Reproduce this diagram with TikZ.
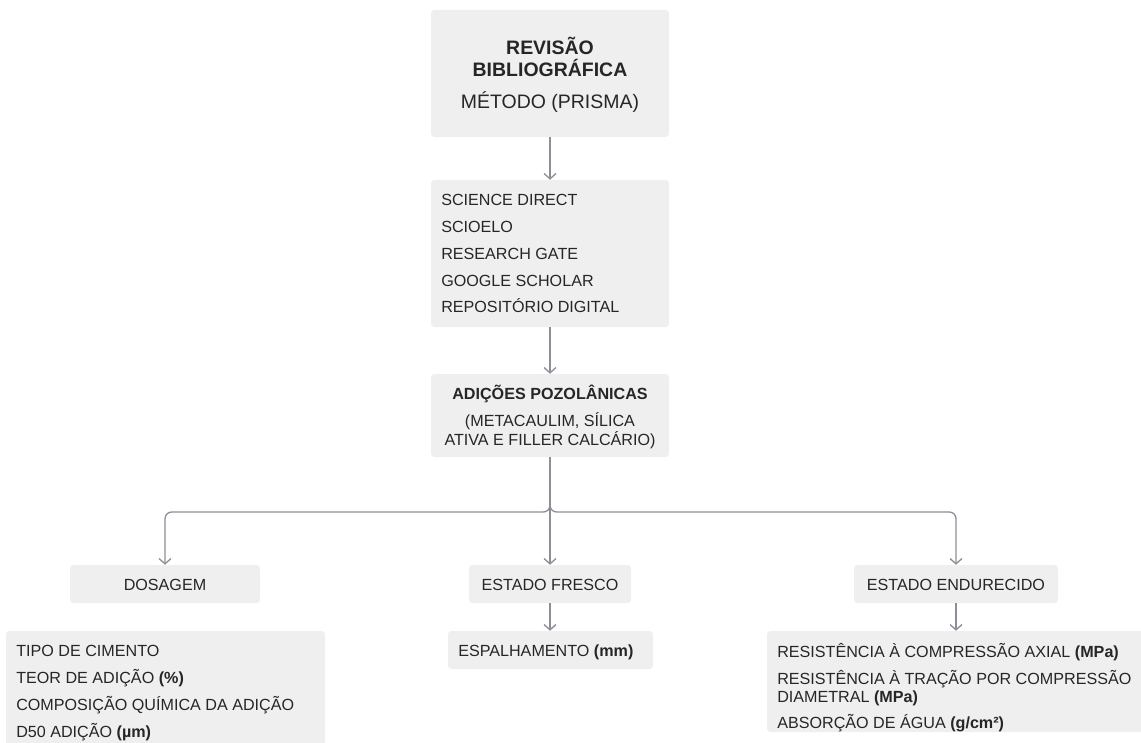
\documentclass[tikz,border=0pt]{standalone}
\usepackage{fontspec}
\setmainfont{Liberation Sans}
\usetikzlibrary{arrows.meta,fit}
\definecolor{boxfill}{HTML}{EFEFEF}
\definecolor{ink}{HTML}{262626}
\definecolor{wire}{HTML}{8E8E98}
\begin{document}
\begin{tikzpicture}[x=0.75pt,y=-0.75pt,
  box/.style={rectangle, fill=boxfill, rounded corners=2.5pt, inner sep=0pt, draw=none},
  lbl/.style={inner sep=0pt, text=ink, font=\fontsize{12.1}{14}\selectfont},
  big/.style={inner sep=0pt, text=ink, font=\fontsize{14.6}{17}\selectfont},
  conn/.style={draw=wire, line width=1pt, -{Straight Barb[length=4pt,width=9pt]}},
]
\useasboundingbox (0,0) rectangle (1141,742);
\clip (0,0) rectangle (1141,742);

% boxes
\node[box, fit={(431,10) (669,137)}] (b1) {};
\node[box, fit={(431,180) (669,327)}] (b2) {};
\node[box, fit={(431,374) (669,457)}] (b3) {};
\node[box, fit={(70,565) (260,603)}] (dos) {};
\node[box, fit={(469,565) (631,603)}] (fre) {};
\node[box, fit={(854,565) (1058,603)}] (end) {};
\node[box, fit={(6,631) (325,770)}] (dosl) {};
\node[box, fit={(448,631) (653,669)}] (esp) {};
\node[box, fit={(767,631) (1170,732)}] (res) {};

% box 1 text
\node[big, anchor=base] (t1a) at (550,54.5) {\bfseries REVISÃO};
\node[big, anchor=base] (t1b) at (550,77) {\bfseries BIBLIOGRÁFICA};
\node[big, anchor=base] (t1c) at (550,108.3) {MÉTODO (PRISMA)};

% box 2 text
\node[lbl, anchor=base west] (t2a) at (441,205.7) {SCIENCE DIRECT};
\node[lbl, anchor=base west] (t2b) at (441,232.5) {SCIOELO};
\node[lbl, anchor=base west] (t2c) at (441,259.3) {RESEARCH GATE};
\node[lbl, anchor=base west] (t2d) at (441,286.1) {GOOGLE SCHOLAR};
\node[lbl, anchor=base west] (t2e) at (441,312.9) {REPOSITÓRIO DIGITAL};

% box 3 text
\node[lbl, anchor=base] (t3a) at (550,399.3) {\bfseries ADIÇÕES POZOLÂNICAS};
\node[lbl, anchor=base] (t3b) at (550,426.3) {(METACAULIM, SÍLICA};
\node[lbl, anchor=base] (t3c) at (550,445.5) {ATIVA E FILLER CALCÁRIO)};

% level 2 text
\node[lbl, anchor=base] (tdos) at (165,590.7) {DOSAGEM};
\node[lbl, anchor=base] (tfre) at (550,590.7) {ESTADO FRESCO};
\node[lbl, anchor=base] (tend) at (956,590.7) {ESTADO ENDURECIDO};

% dosagem list
\node[lbl, anchor=base west] (td1) at (16,656.3) {TIPO DE CIMENTO};
\node[lbl, anchor=base west] (td2) at (16,683.3) {TEOR DE ADIÇÃO \textbf{(\%)}};
\node[lbl, anchor=base west] (td3) at (16,710.5) {COMPOSIÇÃO QUÍMICA DA ADIÇÃO};
\node[lbl, anchor=base west] (td4) at (16,737.3) {D50 ADIÇÃO \textbf{(µm)}};

% espalhamento
\node[lbl, anchor=base west] (tesp) at (458,656) {ESPALHAMENTO \textbf{(mm)}};

% result list
\node[lbl, anchor=base west] (tr1) at (777,657) {RESISTÊNCIA À COMPRESSÃO AXIAL \textbf{(MPa)}};
\node[lbl, anchor=base west] (tr2) at (777,684) {RESISTÊNCIA À TRAÇÃO POR COMPRESSÃO};
\node[lbl, anchor=base west] (tr3) at (777,702.5) {DIAMETRAL \textbf{(MPa)}};
\node[lbl, anchor=base west] (tr4) at (777,728.5) {ABSORÇÃO DE ÁGUA \textbf{(g/cm²)}};

% connectors
\coordinate (j) at (550,512);
\draw[conn] (b1.south) -- (b2.north);
\draw[conn] (b2.south) -- (b3.north);
\draw[conn, rounded corners=5pt] (b3.south) |- (dos.north |- j) -- (dos.north);
\draw[conn, rounded corners=5pt] (b3.south) |- (end.north |- j) -- (end.north);
\draw[conn] (b3.south) -- (fre.north);
\draw[conn] (fre.south) -- (esp.north -| fre.south);
\draw[conn] (end.south) -- (res.north -| end.south);
\end{tikzpicture}
\end{document}
